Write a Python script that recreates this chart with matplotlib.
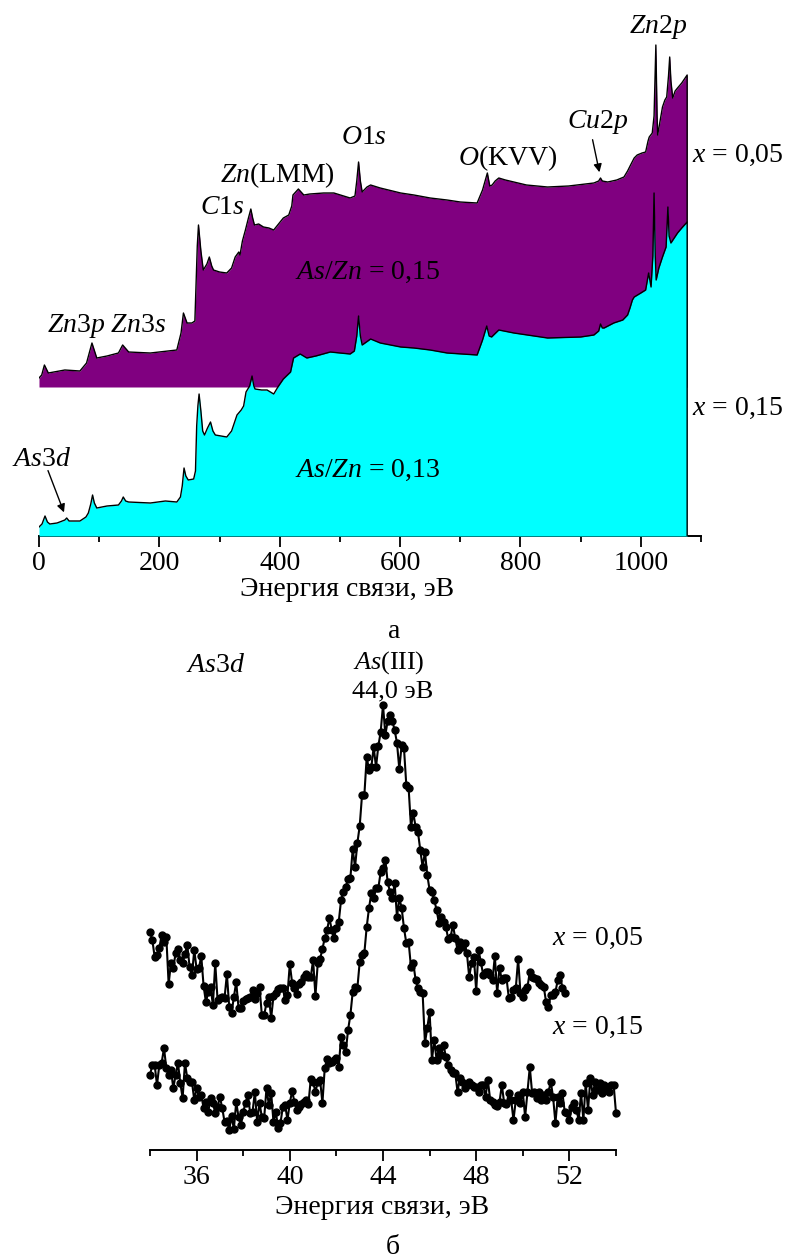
import numpy as np
import matplotlib
matplotlib.use("Agg")
import matplotlib.pyplot as plt
from matplotlib.ticker import MultipleLocator

# ---------------- data: survey spectra (binding energy, eV ; intensity, a.u.) -------------
e_x005 = [0, 4.5, 9, 15.5, 43, 68, 79, 88, 96, 113, 132, 139, 149, 185, 229, 236, 240, 246,
          254, 259, 263, 265, 269, 273, 279, 283, 287, 290, 300, 312, 320, 326, 332, 334, 338,
          343, 348, 352, 355, 358, 365, 373, 382, 390, 398, 406, 415, 420, 422, 431, 440, 450,
          473, 490, 517, 525, 528, 531, 534, 537, 545, 551, 567, 601, 623, 650, 678, 700, 728,
          737, 745, 749, 753, 758, 764, 775, 789, 810, 845, 880, 922, 930, 933, 936, 945, 960,
          972, 978, 983, 989, 994, 1002, 1008, 1012, 1014, 1019, 1022, 1025, 1027, 1028, 1032,
          1036, 1040, 1043, 1046, 1048, 1050, 1053, 1057, 1061, 1068, 1077]
i_x005 = [158, 161, 171, 163, 166, 165, 173, 193, 178, 180, 183, 191, 184, 183, 186, 203, 223, 213,
          213, 215, 290, 311, 285, 266, 272, 279, 270, 266, 264, 263, 268, 279, 284, 281, 295,
          306, 318, 327, 318, 311, 312, 309, 308, 306, 312, 318, 321, 330, 341, 347, 341, 342,
          343, 343, 338, 340, 355, 374, 355, 344, 349, 351, 348, 343, 341, 338, 336, 334, 333,
          346, 363, 350, 351, 355, 358, 356, 354, 351, 349, 350, 353, 355, 358, 355, 354, 356,
          359, 365, 371, 378, 381, 383, 384, 395, 399, 403, 420, 491, 420, 401, 415,
          429, 436, 439, 460, 479, 455, 438, 445, 448, 453, 461]
base_x005 = 149

e_x015 = [0, 5, 10, 14, 18, 30, 43, 46, 50, 68, 78, 82, 86, 89, 92, 96, 113, 132, 137, 140, 144,
          149, 185, 210, 229, 235, 238, 241, 244, 248, 257, 260, 262, 264, 266, 269, 272, 275,
          280, 285, 289, 293, 312, 320, 329, 336, 340, 344, 350, 354, 357, 359, 370, 379, 390,
          398, 406, 418, 423, 434, 445, 460, 484, 500, 517, 524, 528, 531, 534, 537, 551, 567,
          601, 623, 650, 678, 728, 737, 744, 748, 752, 764, 789, 845, 900, 922, 930, 933, 936,
          939, 955, 970, 978, 982, 986, 989, 1000, 1008, 1013, 1017, 1020, 1022, 1024, 1025.5,
          1030, 1036, 1042, 1045, 1047, 1050, 1061, 1068, 1077]
i_x015 = [9, 12, 20, 14, 12, 13, 16, 18, 15, 15, 19, 23, 32, 41, 33, 28, 30, 31, 35, 39, 35,
          34, 33, 35, 34, 39, 50, 68, 60, 56, 57, 65, 110, 130, 142, 125, 105, 101,
          108, 114, 105, 101, 99, 105, 121, 126, 130, 144, 150, 160, 150, 147, 146, 146, 142,
          150, 157, 164, 178, 182, 178, 180, 184, 183, 182, 185, 200, 220, 200, 191, 197, 193,
          189, 188, 186, 183, 181, 196, 210, 200, 199, 206, 203, 198, 199, 201, 205, 212, 208,
          208, 213, 216, 221, 228, 236, 239, 243, 246, 263, 249, 280, 343, 280, 256,
          268, 279, 289, 329, 300, 293, 303, 308, 314]

survey_ticks = [0, 200, 400, 600, 800, 1000]

# ---------------- data: As3d region (start 34.0 eV, step 0.1 eV) -------------
as3d_start = 34.0
as3d_step = 0.1
as3d_x005 = [218, 210, 193, 195, 202, 215, 208, 213, 166, 187,
             182, 197, 201, 190, 187, 196, 205, 183, 175, 200,
             181, 182, 194, 164, 148, 158, 163, 145, 187, 150,
             152, 153, 152, 176, 143, 137, 153, 168, 142, 142,
             149, 151, 152, 153, 160, 151, 157, 163, 135, 135,
             147, 153, 132, 154, 157, 161, 162, 162, 150, 155,
             186, 167, 162, 156, 166, 168, 173, 176, 173, 173,
             190, 154, 187, 191, 201, 212, 220, 232, 220, 212,
             222, 228, 250, 258, 263, 271, 272, 301, 283, 307,
             324, 355, 355, 393, 380, 383, 403, 383, 404, 418,
             445, 415, 429, 435, 429, 420, 407, 381, 405, 402,
             365, 362, 323, 337, 323, 318, 300, 283, 298, 275,
             260, 258, 250, 240, 227, 233, 228, 223, 211, 213,
             225, 212, 200, 208, 203, 207, 197, 173, 187, 193,
             159, 200, 188, 175, 178, 178, 175, 170, 194, 157,
             182, 170, 172, 172, 152, 153, 160, 162, 191, 157,
             153, 160, 163, 178, 173, 172, 171, 167, 165, 163,
             148, 143, 155, 155, 158, 170, 175, 162, 157]
as3d_x015 = [75, 85, 85, 65, 85, 87, 102, 82, 75, 80,
             62, 75, 87, 67, 52, 87, 72, 68, 68, 50,
             62, 53, 55, 42, 48, 38, 52, 47, 37, 43,
             53, 42, 28, 29, 20, 34, 21, 48, 33, 25,
             38, 47, 55, 37, 38, 58, 28, 47, 33, 32,
             62, 45, 57, 28, 38, 22, 27, 43, 45, 30,
             47, 59, 48, 40, 43, 46, 48, 50, 46, 71,
             68, 58, 68, 70, 47, 82, 91, 87, 88, 90,
             92, 83, 113, 105, 98, 120, 135, 158, 163, 162,
             188, 195, 197, 223, 242, 257, 252, 262, 262, 278,
             282, 290, 268, 258, 252, 267, 233, 252, 242, 222,
             207, 208, 183, 187, 170, 162, 158, 157, 107, 122,
             138, 90, 110, 90, 102, 95, 105, 93, 85, 80,
             77, 77, 58, 72, 68, 62, 65, 68, 65, 63,
             63, 58, 65, 65, 53, 70, 50, 48, 45, 44,
             48, 65, 47, 46, 57, 50, 30, 50, 55, 47,
             58, 33, 58, 83, 57, 58, 52, 58, 50, 55,
             50, 58, 68, 53, 27, 53, 47, 57, 38, 37,
             30, 43, 47, 40, 30, 57, 30, 67, 40, 72,
             55, 68, 60, 67, 57, 65, 62, 58, 65, 65,
             37]
as3d_ticks = [36, 40, 44, 48, 52]

# ---------------- style -------------
plt.rcParams['font.family'] = ['Liberation Serif', 'DejaVu Serif']
plt.rcParams['mathtext.fontset'] = 'custom'
plt.rcParams['mathtext.rm'] = 'Liberation Serif'
plt.rcParams['mathtext.it'] = 'Liberation Serif:italic'
FS = 20

W, H = 785, 1260
fig = plt.figure(figsize=(W / 100, H / 100), dpi=100)


def fx(px):
    return px / W


def fy(py):
    return 1 - py / H


def style_axis(ax):
    for s in ('left', 'right', 'top'):
        ax.spines[s].set_visible(False)
    ax.spines['bottom'].set_linewidth(1.4)
    ax.set_yticks([])
    ax.tick_params(axis='x', which='major', direction='out', length=8, width=1.3,
                   labelsize=FS, pad=3)
    ax.tick_params(axis='x', which='minor', direction='out', length=4.5, width=1.3)
    ax.patch.set_alpha(0)


# ---------------- panel a: survey -------------
ax1 = fig.add_axes([fx(39), fy(536), fx(662), 500 / H])
ax1.set_xlim(0, 1100)
ax1.set_ylim(0, 500)
style_axis(ax1)
ax1.set_xticks(survey_ticks)
ax1.xaxis.set_minor_locator(MultipleLocator(100))

ax1.fill_between(e_x005, base_x005, i_x005, color='#800080', lw=0, zorder=1)
ax1.plot(e_x005 + [e_x005[-1]], i_x005 + [base_x005], color='black', lw=1.0, zorder=2)
ax1.fill_between(e_x015, 0, i_x015, color='#00FFFF', lw=0, zorder=3)
ax1.plot(e_x015 + [e_x015[-1]], i_x015 + [0], color='black', lw=1.0, zorder=4)


def t(px, py, s, ha='center', size=FS):
    fig.text(fx(px), fy(py), s, ha=ha, va='center', fontsize=size)


t(658, 27, r'$Zn$2$p$')
t(598, 122, r'$Cu$2$p$')
t(508, 158, r'$O$(KVV)')
t(692, 155, r'$x$ = 0,05', ha='left')
t(364, 138, r'$O$1$s$')
t(277, 175, r'$Zn$(LMM)')
t(222, 208, r'$C$1$s$')
t(295, 272, r'$As$/$Zn$ = 0,15', ha='left')
t(47, 326, r'$Zn$3$p$ $Zn$3$s$', ha='left')
t(12, 460, r'$As$3$d$', ha='left')
t(295, 470, r'$As$/$Zn$ = 0,13', ha='left')
t(692, 408, r'$x$ = 0,15', ha='left')
t(347, 590, 'Энергия связи, эВ')
t(394, 631, 'а')

arrow_kw = dict(arrowstyle='-|>', color='black', lw=1.0, mutation_scale=12)
fig.add_artist(matplotlib.patches.FancyArrowPatch((fx(592), fy(137)), (fx(600), fy(175)),
                                                  transform=fig.transFigure, **arrow_kw))
fig.add_artist(matplotlib.patches.FancyArrowPatch((fx(47), fy(468)), (fx(65), fy(515)),
                                                  transform=fig.transFigure, **arrow_kw))

# ---------------- panel b: As3d -------------
ax2 = fig.add_axes([fx(150), fy(1150), fx(466), 500 / H])
ax2.set_xlim(34, 54)
ax2.set_ylim(0, 500)
style_axis(ax2)
ax2.set_xticks(as3d_ticks)
ax2.xaxis.set_minor_locator(MultipleLocator(2))

e005 = as3d_start + as3d_step * np.arange(len(as3d_x005))
e015 = as3d_start + as3d_step * np.arange(len(as3d_x015))
for e, v in ((e005, as3d_x005), (e015, as3d_x015)):
    ax2.plot(e, v, color='black', lw=1.5, marker='o', ms=5, mfc='black', mec='black',
             clip_on=False)

t(216, 665, r'$As$3$d$')
t(389, 663, r'$As$(III)', size=19)
t(393, 691, '44,0 эВ', size=19)
t(552, 938, r'$x$ = 0,05', ha='left')
t(552, 1027, r'$x$ = 0,15', ha='left')
t(382, 1208, 'Энергия связи, эВ')
t(393, 1247, 'б')

fig.savefig('out.png', dpi=100)
